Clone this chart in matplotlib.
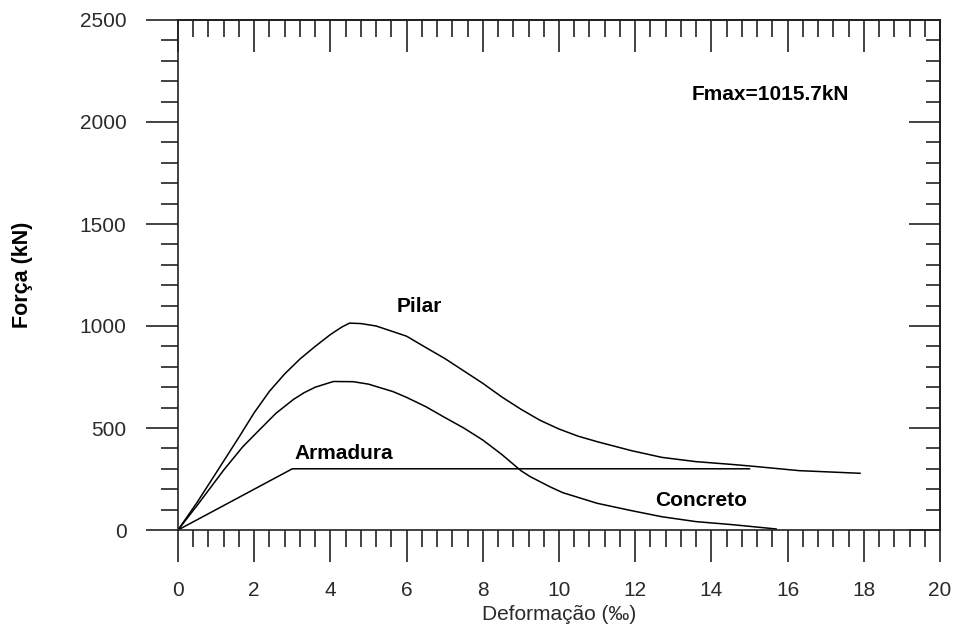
import numpy as np
import matplotlib
matplotlib.use("Agg")
import matplotlib.pyplot as plt
from matplotlib.ticker import MultipleLocator

plt.rcParams['font.family'] = ['Liberation Sans', 'DejaVu Sans']

# Curves (deformation in per mille, force in kN)
pilar_x = [0, 0.5, 1.0, 1.6, 2.0, 2.4, 2.8, 3.2, 3.6, 4.0, 4.3, 4.5, 4.8, 5.2,
           5.65, 6.0, 6.5, 7.0, 7.5, 8.0, 8.5, 9.0, 9.5, 10.0, 10.5, 11.0,
           11.9, 12.7, 13.6, 14.5, 15.0, 16.3, 17.9]
pilar_y = [0, 135, 280, 455, 575, 680, 765, 838, 900, 958, 995, 1014, 1012, 1000,
           972, 950, 895, 841, 780, 719, 652, 592, 538, 495, 460, 433,
           389, 356, 335, 322, 314, 291, 278]

concreto_x = [0, 0.5, 1.2, 1.7, 2.0, 2.57, 3.03, 3.3, 3.6, 4.08, 4.6, 5.0,
              5.65, 6.0, 6.5, 6.96, 7.5, 8.0, 8.5, 9.0, 9.24, 9.76, 10.1,
              11.0, 11.9, 12.7, 13.6, 14.5, 15.0, 15.7]
concreto_y = [0, 120, 294, 408, 465, 572, 640, 672, 700, 728, 727, 715,
              678, 650, 605, 556, 500, 441, 370, 291, 262, 212, 183,
              131, 95, 65, 41, 27, 18, 5]

armadura_x = [0, 3, 15]
armadura_y = [0, 300, 300]

fig = plt.figure(figsize=(9.58, 6.35), dpi=100)
ax = fig.add_axes([178/958, 105/635, 762/958, 510/635])

lw = 1.1
ax.plot(pilar_x, pilar_y, color='black', lw=lw)
ax.plot(concreto_x, concreto_y, color='black', lw=lw)
ax.plot(armadura_x, armadura_y, color='black', lw=lw)

ax.set_xlim(0, 20)
ax.set_ylim(0, 2500)

ax.xaxis.set_major_locator(MultipleLocator(2))
ax.xaxis.set_minor_locator(MultipleLocator(0.4))
ax.yaxis.set_major_locator(MultipleLocator(500))
ax.yaxis.set_minor_locator(MultipleLocator(100))

tick_col = '#2a2a2a'
for s in ax.spines.values():
    s.set_linewidth(1.2)
    s.set_color('#222222')

ax.tick_params(which='major', direction='out', length=23, width=1.2,
               color='#222222', labelsize=15, labelcolor=tick_col, pad=14)
ax.tick_params(which='minor', direction='out', length=12, width=1.2, color='#222222')

secx = ax.secondary_xaxis('top')
secx.xaxis.set_major_locator(MultipleLocator(2))
secx.xaxis.set_minor_locator(MultipleLocator(0.4))
secx.tick_params(which='major', direction='in', length=23, width=1.2,
                 color='#222222', labeltop=False)
secx.tick_params(which='minor', direction='in', length=12, width=1.2, color='#222222')
secx.spines['top'].set_linewidth(1.2)

secy = ax.secondary_yaxis('right')
secy.yaxis.set_major_locator(MultipleLocator(500))
secy.yaxis.set_minor_locator(MultipleLocator(100))
secy.tick_params(which='major', direction='in', length=22, width=1.2,
                 color='#222222', labelright=False)
secy.tick_params(which='minor', direction='in', length=10, width=1.2, color='#222222')
secy.spines['right'].set_linewidth(1.2)

ax.set_xlabel('Deformação (‰)', fontsize=15, color=tick_col)
ax.xaxis.set_label_coords(0.5, -0.147)
ax.set_ylabel('Força (kN)', fontsize=15.5, fontweight='bold')
ax.yaxis.set_label_coords(-0.19, 0.5)

lab = dict(fontsize=15, fontweight='bold', ha='center', va='center')
ax.text(6.33, 1098, 'Pilar', **lab)
ax.text(4.36, 377, 'Armadura', **lab)
ax.text(13.73, 147, 'Concreto', **lab)
ax.text(15.54, 2137, 'Fmax=1015.7kN', **lab)

fig.savefig('out.png', dpi=100)
